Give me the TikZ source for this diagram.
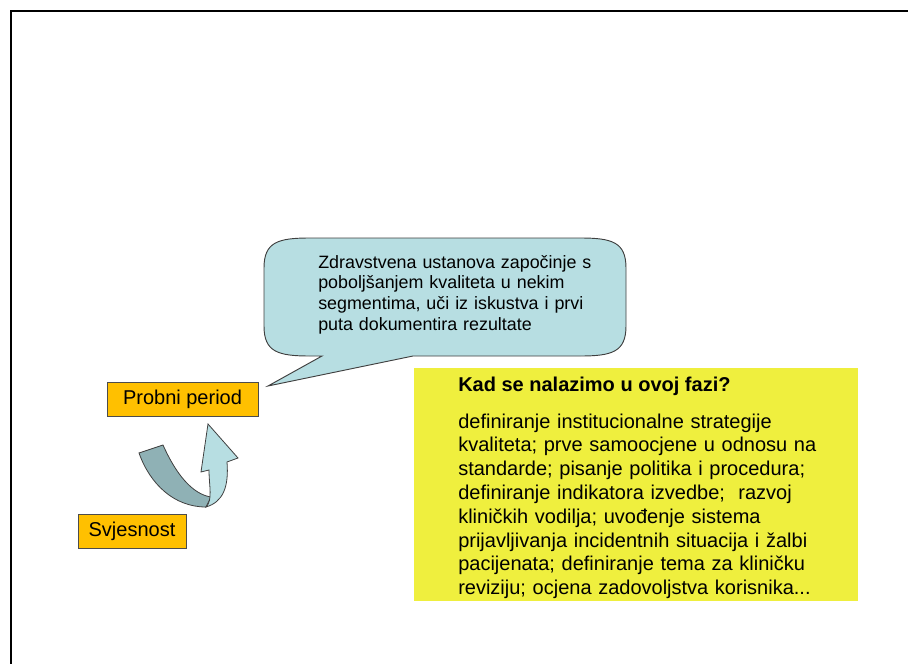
\documentclass[tikz,border=0pt]{standalone}
\usepackage{fontspec}
\setmainfont{Liberation Sans}
\begin{document}
\begin{tikzpicture}[x=0.75pt,y=-0.75pt,
  framerule/.style={line width=1.6pt,black},
  stagebox/.style={draw=black!70,line width=0.6pt,fill=stageorange,inner sep=0pt,
    font=\fontsize{15}{18}\selectfont},
  bubble/.style={draw=black!75,line width=0.7pt,fill=bubblecyan},
  ribbonback/.style={draw=black!75,line width=0.6pt,fill=ribbondark},
  ribbonfront/.style={draw=black!75,line width=0.6pt,fill=bubblecyan},
  bodytext/.style={anchor=base west,inner sep=0pt,align=left}]
\definecolor{stageorange}{HTML}{FFC000}
\definecolor{bubblecyan}{HTML}{B7DEE2}
\definecolor{ribbondark}{HTML}{8FB1B5}
\definecolor{notefill}{HTML}{EFEF3E}

\useasboundingbox (0,0) rectangle (908,664);

% page frame (top and left rules)
\coordinate (fTL) at (11,11);
\coordinate (fTR) at (908,11);
\coordinate (fBL) at (11,664);
\draw[framerule] (fTR) -- (fTL) -- (fBL);

% speech bubble with its tail
\draw[bubble] (264,268) .. controls (264,242) and (278,238) .. (310,238)
  -- (580,238) .. controls (612,238) and (626,242) .. (626,268)
  -- (626,326) .. controls (626,352) and (612,356) .. (580,356)
  -- (413,356) -- (268,386) -- (322,356) -- (310,356)
  .. controls (278,356) and (264,352) .. (264,326) -- cycle;
\node[bodytext,text width=240pt,font=\fontsize{13.4}{15.6}\selectfont] (bubbletext) at (318,268)
  {Zdravstvena ustanova započinje s\\
   poboljšanjem kvaliteta u nekim\\
   segmentima, uči iz iskustva i prvi\\
   puta dokumentira rezultate};

% stage labels
\node[stagebox,minimum width=113.25pt,minimum height=25pt] (probni) at (182.5,399.5) {Probni period};
\node[stagebox,minimum width=81pt,minimum height=25.5pt] (svjesnost) at (132,531) {Svjesnost};

% curved ribbon arrow
\draw[ribbonback] (139,453) -- (163,445)
  .. controls (176,474) and (192,494) .. (211,497)
  -- (206,507) .. controls (174,507) and (150,484) .. (139,453) -- cycle;
\draw[ribbonfront] (206,507) .. controls (213,500) and (209,486) .. (209,470)
  -- (201,472) -- (208,424) -- (238,458) -- (227,462)
  .. controls (229,487) and (223,502) .. (206,507) -- cycle;

% note panel
\node[fill=notefill,minimum width=333pt,minimum height=174.75pt,inner sep=0pt,anchor=north west] (note) at (414,368) {};
\node[bodytext,font=\bfseries\fontsize{15}{18}\selectfont] (noteheading) at (458,391)
  {Kad se nalazimo u ovoj fazi?};
\node[bodytext,text width=320pt,font=\fontsize{15}{17.85}\selectfont] (notebody) at (458,428)
  {definiranje institucionalne strategije\\
   kvaliteta; prve samoocjene u odnosu na\\
   standarde; pisanje politika i procedura;\\
   definiranje indikatora izvedbe;\ \ razvoj\\
   kliničkih vodilja; uvođenje sistema\\
   prijavljivanja incidentnih situacija i žalbi\\
   pacijenata; definiranje tema za kliničku\\
   reviziju; ocjena zadovoljstva korisnika...};
\end{tikzpicture}
\end{document}
